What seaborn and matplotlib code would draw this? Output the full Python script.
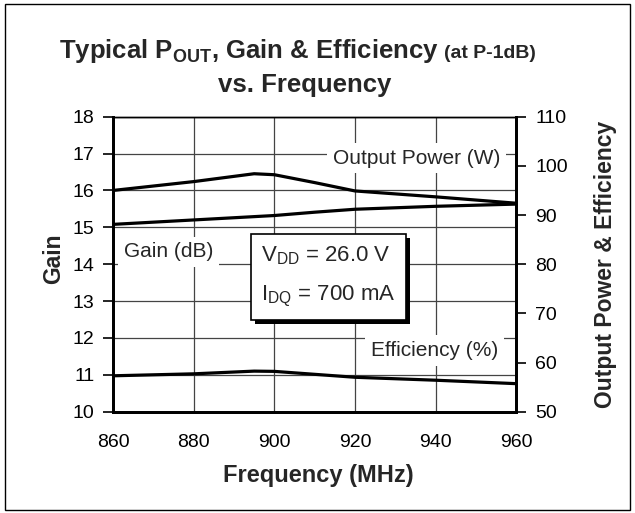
import matplotlib
matplotlib.use('Agg')
import matplotlib.pyplot as plt
import seaborn as sns
import pandas as pd
from matplotlib.patches import Rectangle

# ---- data ----
freq = [860, 880, 895, 900, 910, 920, 940, 960]
gain_db = [15.08, 15.20, 15.29, 15.32, 15.41, 15.49, 15.57, 15.63]
pout_w = [95.0, 96.8, 98.4, 98.2, 96.6, 94.9, 93.7, 92.4]
eff_pct = [57.3, 57.7, 58.25, 58.2, 57.6, 57.0, 56.4, 55.7]

freq_ticks = [860, 880, 900, 920, 940, 960]
gain_ticks = list(range(10, 19))
right_ticks = list(range(50, 111, 10))

df = pd.DataFrame({'freq': freq, 'gain': gain_db, 'pout': pout_w, 'eff': eff_pct})

sns.set_style('white')
plt.rcParams['font.family'] = ['Liberation Sans', 'DejaVu Sans']
plt.rcParams['mathtext.default'] = 'regular'

fig = plt.figure(figsize=(6.35, 5.13), dpi=100)
ax = fig.add_axes([0.178, 0.1975, 0.635, 0.575])
ax2 = ax.twinx()

# left axis: gain
sns.lineplot(data=df, x='freq', y='gain', ax=ax, color='black', lw=2.3)
# right axis: output power & efficiency
sns.lineplot(data=df, x='freq', y='pout', ax=ax2, color='black', lw=2.3)
sns.lineplot(data=df, x='freq', y='eff', ax=ax2, color='black', lw=2.3)

ax.set_xlim(860, 960)
ax.set_ylim(10, 18)
ax2.set_ylim(50, 110)
ax.set_xticks(freq_ticks)
ax.set_yticks(gain_ticks)
ax2.set_yticks(right_ticks)

ax.grid(True, color='#444444', lw=0.9)
ax.set_axisbelow(True)

for a in (ax, ax2):
    a.tick_params(direction='out', length=7, width=1.2, labelsize=14, colors='black', pad=6.5)
    for side in ('left', 'right', 'bottom'):
        a.spines[side].set_linewidth(2)
        a.spines[side].set_color('black')
    a.spines['top'].set_linewidth(1)
    a.spines['top'].set_color('black')
ax.tick_params(axis='x', pad=9)
ax.tick_params(axis='y', left=True, right=False)
ax2.tick_params(axis='y', right=True)

ax.set_xlabel('Frequency (MHz)', fontsize=17, fontweight='bold')
ax.set_ylabel('Gain', fontsize=16.5, fontweight='bold')
ax2.set_ylabel('Output Power & Efficiency', fontsize=16.5, fontweight='bold')
ax.xaxis.set_label_coords(0.509, -0.176)
ax.yaxis.set_label_coords(-0.12, 0.517)
ax2.yaxis.set_label_coords(1.194, 0.5)

# series labels with white backgrounds
white = dict(facecolor='white', edgecolor='none', pad=4)
ax2.text(0.96, 0.86, 'Output Power (W)', transform=ax.transAxes, fontsize=15,
         ha='right', va='center', bbox=white, zorder=5)
ax2.text(0.027, 0.542, 'Gain (dB)', transform=ax.transAxes, fontsize=15,
         ha='left', va='center', bbox=white, zorder=5)
ax2.text(0.955, 0.207, 'Efficiency (%)', transform=ax.transAxes, fontsize=15,
         ha='right', va='center', bbox=white, zorder=5)

# bias condition box with drop shadow
ax2.add_patch(Rectangle((0.353, 0.297), 0.384, 0.291, transform=ax.transAxes,
                        facecolor='black', edgecolor='none', zorder=6))
ax2.add_patch(Rectangle((0.342, 0.311), 0.384, 0.291, transform=ax.transAxes,
                        facecolor='white', edgecolor='black', lw=1.2, zorder=7))
ax2.text(0.368, 0.51, 'V$_{DD}$ = 26.0 V', transform=ax.transAxes, fontsize=16,
         ha='left', va='baseline', zorder=8)
ax2.text(0.368, 0.378, 'I$_{DQ}$ = 700 mA', transform=ax.transAxes, fontsize=16,
         ha='left', va='baseline', zorder=8)

# title, first line in two sizes
t1 = fig.text(0.093, 0.886, 'Typical P$_{OUT}$, Gain & Efficiency', fontsize=18.5,
              fontweight='bold', ha='left', va='baseline')
fig.canvas.draw()
x_end = fig.transFigure.inverted().transform(t1.get_window_extent())[1][0]
fig.text(x_end + 0.008, 0.886, '(at P-1dB)', fontsize=14, fontweight='bold',
         ha='left', va='baseline')
fig.text(0.48, 0.821, 'vs. Frequency', fontsize=18.5, fontweight='bold', ha='center', va='baseline')

# outer frame
fig.patches.append(Rectangle((0.008, 0.006), 0.984, 0.986, transform=fig.transFigure,
                             fill=False, edgecolor='black', lw=1))

fig.savefig('out.png', dpi=100)
